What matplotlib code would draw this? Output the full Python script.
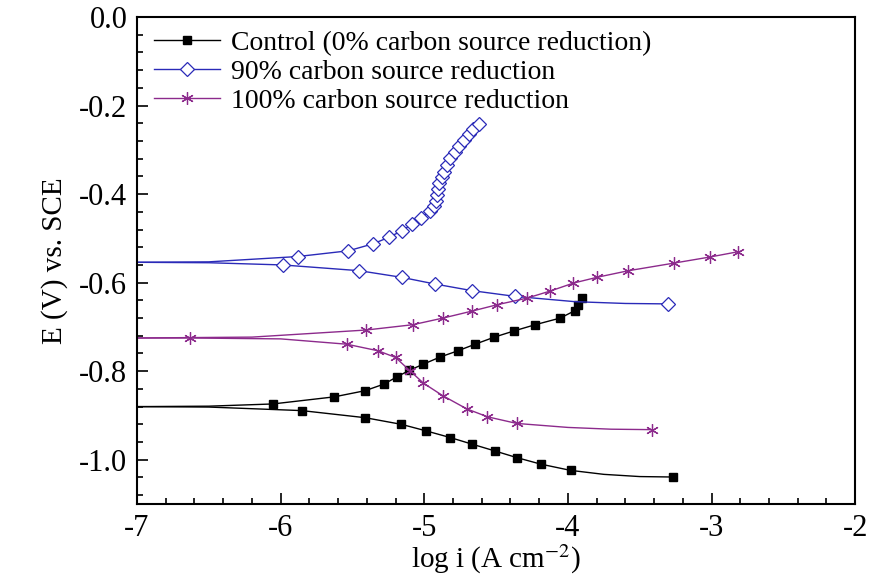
import matplotlib
matplotlib.use('Agg')
import matplotlib.pyplot as plt
from matplotlib.ticker import MultipleLocator

plt.rcParams['font.family'] = ['Liberation Serif', 'DejaVu Serif']
plt.rcParams['mathtext.fontset'] = 'stix'

# Control (0% carbon source reduction)
ctrl_an_x = [-7.0, -6.5, -6.055, -5.628, -5.412, -5.280, -5.192, -5.104, -5.006, -4.890,
             -4.767, -4.646, -4.512, -4.375, -4.228, -4.054, -3.950, -3.927, -3.903]
ctrl_an_y = [-0.880, -0.879, -0.874, -0.858, -0.844, -0.829, -0.813, -0.798, -0.784, -0.768,
             -0.754, -0.739, -0.723, -0.709, -0.695, -0.680, -0.663, -0.650, -0.635]
ctrl_an_mk = list(range(2, 19))
ctrl_ca_x = [-7.0, -6.5, -5.853, -5.412, -5.160, -4.985, -4.818, -4.665, -4.510, -4.358,
             -4.188, -3.982, -3.75, -3.5, -3.270]
ctrl_ca_y = [-0.880, -0.881, -0.889, -0.905, -0.920, -0.935, -0.950, -0.965, -0.980, -0.995,
             -1.010, -1.024, -1.033, -1.038, -1.039]
ctrl_ca_mk = [2, 3, 4, 5, 6, 7, 8, 9, 10, 11, 14]

# 90% carbon source reduction
r90_an_x = [-7.0, -6.5, -5.881, -5.528, -5.354, -5.243, -5.157, -5.087, -5.025, -4.960,
            -4.932, -4.918, -4.909, -4.906, -4.895, -4.879, -4.862, -4.844, -4.820, -4.786,
            -4.756, -4.721, -4.686, -4.658, -4.616]
r90_an_y = [-0.554, -0.553, -0.541, -0.528, -0.512, -0.497, -0.483, -0.468, -0.454, -0.439,
            -0.427, -0.415, -0.402, -0.389, -0.375, -0.362, -0.349, -0.334, -0.319, -0.304,
            -0.291, -0.278, -0.265, -0.254, -0.242]
r90_an_mk = list(range(2, 25))
r90_ca_x = [-7.0, -6.5, -5.986, -5.452, -5.157, -4.927, -4.669, -4.368, -3.95, -3.60, -3.300]
r90_ca_y = [-0.554, -0.555, -0.560, -0.573, -0.588, -0.603, -0.618, -0.631, -0.643, -0.647, -0.648]
r90_ca_mk = [2, 3, 4, 5, 6, 7, 10]

# 100% carbon source reduction
r100_an_x = [-7.0, -6.2, -5.405, -5.080, -4.870, -4.665, -4.495, -4.286, -4.124, -3.962,
             -3.799, -3.579, -3.265, -3.010, -2.813]
r100_an_y = [-0.725, -0.723, -0.707, -0.695, -0.680, -0.664, -0.650, -0.635, -0.619, -0.601,
             -0.588, -0.573, -0.556, -0.542, -0.530]
r100_an_mk = list(range(2, 15))
r100_ca_x = [-7.0, -6.631, -6.0, -5.540, -5.320, -5.200, -5.100, -5.006, -4.873, -4.705,
             -4.560, -4.356, -4.0, -3.7, -3.418]
r100_ca_y = [-0.725, -0.725, -0.727, -0.739, -0.754, -0.769, -0.799, -0.827, -0.855, -0.885,
             -0.903, -0.918, -0.927, -0.931, -0.932]
r100_ca_mk = [1, 3, 4, 5, 6, 7, 8, 9, 10, 11, 14]

labels = ['Control (0% carbon source reduction)',
          '90% carbon source reduction',
          '100% carbon source reduction']
x_ticks = [-7, -6, -5, -4, -3, -2]
y_ticks = [0.0, -0.2, -0.4, -0.6, -0.8, -1.0]
c_blue = '#2a2ab8'
c_purp = '#8c2a8c'

fig = plt.figure(figsize=(8.7, 5.81), dpi=100)
ax = fig.add_axes([0.1575, 0.1325, 0.8255, 0.8382])

ax.plot(ctrl_an_x, ctrl_an_y, color='black', lw=1.0, marker='s', ms=6.2,
        markevery=ctrl_an_mk, label=labels[0])
ax.plot(ctrl_ca_x, ctrl_ca_y, color='black', lw=1.0, marker='s', ms=6.2,
        markevery=ctrl_ca_mk)
ax.plot(r90_an_x, r90_an_y, color=c_blue, lw=1.0, marker='D', ms=7.3, mfc='white',
        mec=c_blue, mew=0.9, markevery=r90_an_mk, label=labels[1])
ax.plot(r90_ca_x, r90_ca_y, color=c_blue, lw=1.0, marker='D', ms=7.3, mfc='white',
        mec=c_blue, mew=0.9, markevery=r90_ca_mk)
ax.plot(r100_an_x, r100_an_y, color=c_purp, lw=1.0, marker=(6, 2, 0), ms=9,
        mew=0.9, markevery=r100_an_mk, label=labels[2])
ax.plot(r100_ca_x, r100_ca_y, color=c_purp, lw=1.0, marker=(6, 2, 0), ms=9,
        mew=0.9, markevery=r100_ca_mk)

ax.set_xlim(-7, -2)
ax.set_ylim(-1.1, 0.0)
ax.set_xticks(x_ticks, [str(v) for v in x_ticks])
ax.set_yticks(y_ticks, ['%.1f' % v for v in y_ticks])
ax.xaxis.set_minor_locator(MultipleLocator(0.2))
ax.yaxis.set_minor_locator(MultipleLocator(0.04))
ax.tick_params(which='both', direction='in', top=False, right=False, labelsize=22, width=1.2)
ax.tick_params(which='major', length=8, pad=7)
ax.tick_params(which='minor', length=4.5)
for s in ax.spines.values():
    s.set_linewidth(1.5)

ax.set_xlabel('log i (A cm$^{-2}$)', fontsize=21, labelpad=0)
ax.set_ylabel('E (V) vs. SCE', fontsize=21, labelpad=8)

ax.legend(loc='upper left', frameon=False, fontsize=20, handlelength=2.4,
          handletextpad=0.4, labelspacing=0.12, borderaxespad=0.2,
          bbox_to_anchor=(0.0, 1.006))

fig.savefig('out.png', dpi=100)
